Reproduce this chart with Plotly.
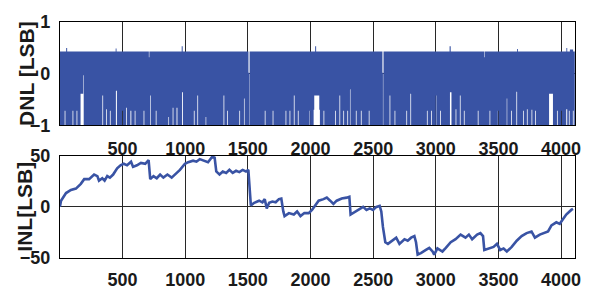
import numpy as np
import plotly.graph_objects as go

# ---------------- data ----------------
# DNL: the plot is a dense band; described by its envelope
n_codes = 4111                      # code axis extent visible
dnl_band_top = 0.43                 # typical upper edge of the DNL band
dnl_band_bottom = -1.0              # typical lower edge (missing codes)

# white slivers rising from the bottom: start code, width (codes), floor value
sliver_code  = [38, 101, 133, 165, 186, 339, 370, 399, 447, 497, 528, 563, 597, 668, 721,
                765, 866, 900, 931, 975, 1069, 1097, 1163, 1306, 1335, 1432, 1469, 1509,
                1635, 1698, 1801, 1833, 1867, 1899, 1993, 2030, 2025, 2104, 2196, 2231,
                2262, 2294, 2315, 2362, 2402, 2465, 2578, 2631, 2671, 2765, 2797, 2929,
                2963, 3000, 3034, 3113, 3158, 3192, 3224, 3335, 3429, 3495, 3566, 3601,
                3643, 3698, 3727, 3764, 3793, 3904, 3967, 4001, 4041, 4062, 4094]
sliver_width = [6, 6, 6, 21, 4, 6, 6, 6, 8, 6, 6, 7, 6, 6, 5,
                6, 5, 6, 7, 7, 6, 6, 5, 6, 6, 6, 5, 3,
                6, 6, 6, 6, 6, 6, 4, 40, 50, 6, 6, 6,
                6, 6, 4, 6, 6, 6, 3, 6, 6, 6, 6, 6,
                6, 4, 6, 12, 6, 6, 6, 6, 6, 6, 4, 6,
                6, 6, 6, 6, 6, 31, 6, 6, 8, 6, 6]
sliver_floor = [-0.72, -0.72, -0.72, -0.39, -0.03, -0.42, -0.69, -0.72, -0.33, -0.72, -0.66, -0.72, -0.72, -0.72, -0.42,
                -0.72, -0.84, -0.66, -0.66, -0.36, -0.72, -0.42, -0.84, -0.42, -0.72, -0.72, -0.48, 0.02,
                -0.72, -0.72, -0.72, -0.72, -0.42, -0.72, -0.72, -0.42, -0.70, -0.72, -0.72, -0.42,
                -0.72, -0.72, -0.30, -0.72, -0.72, -0.72, 0.02, -0.42, -0.72, -0.72, -0.39, -0.72,
                -0.72, -0.42, -0.72, -0.36, -0.69, -0.42, -0.72, -0.72, -0.72, -0.72, -0.48, -0.72,
                -0.35, -0.72, -0.69, -0.70, -0.72, -0.39, -0.72, -0.72, -0.69, -0.72, -0.72]

# dips in the top edge: start code, width, ceiling value
notch_code  = [710, 1505, 2574, 3387]
notch_width = [4, 9, 9, 4]
notch_ceil  = [0.32, 0.02, 0.02, 0.32]

# spikes above the top edge: start code, width, value
peak_code  = [50, 445, 972, 2037, 3110, 3649, 4042, 4070]
peak_width = [8, 7, 8, 8, 9, 7, 7, 26]
peak_value = [0.50, 0.49, 0.53, 0.53, 0.53, 0.48, 0.50, 0.47]

# INL curve
inl_code = [0, 9, 49, 88, 128, 167, 194, 233, 273, 299, 312, 338, 357, 378, 399, 425, 457,
            484, 510, 536, 568, 584, 615, 647, 681, 708, 721, 747, 773, 800, 826, 858, 892,
            926, 958, 998, 1024, 1063, 1090, 1116, 1156, 1182, 1216, 1235, 1248, 1274, 1300,
            1327, 1353, 1379, 1406, 1432, 1458, 1485, 1504, 1511, 1524, 1551, 1590, 1616,
            1635, 1651, 1670, 1696, 1722, 1748, 1767, 1783, 1793, 1828, 1867, 1893, 1920,
            1951, 1986, 2012, 2038, 2065, 2104, 2130, 2157, 2183, 2209, 2249, 2289, 2310,
            2320, 2341, 2381, 2420, 2447, 2473, 2499, 2526, 2552, 2565, 2578, 2597, 2618,
            2657, 2684, 2710, 2750, 2776, 2803, 2829, 2842, 2855, 2881, 2921, 2948, 2974,
            2987, 3013, 3053, 3080, 3119, 3158, 3198, 3237, 3264, 3290, 3330, 3356, 3377,
            3387, 3422, 3461, 3488, 3514, 3541, 3567, 3606, 3646, 3685, 3725, 3764, 3791,
            3830, 3870, 3896, 3923, 3962, 3989, 4015, 4041, 4081, 4095]
inl_value = [0.0, 6.0, 13.6, 16.7, 18.0, 22.7, 27.3, 27.3, 31.8, 30.3, 25.8, 28.2, 25.8, 30.3, 28.8, 31.8, 37.9,
             40.9, 42.4, 40.9, 44.5, 39.4, 40.9, 43.3, 42.4, 46.0, 27.3, 30.3, 28.2, 31.8, 28.8, 31.8, 28.8,
             32.4, 36.4, 42.4, 44.0, 45.5, 44.5, 47.0, 45.5, 44.0, 49.4, 48.5, 34.9, 31.8, 34.8,
             33.3, 36.4, 33.4, 35.5, 34.2, 36.4, 34.8, 36.4, 19.7, 1.5, 4.0, 6.1, 4.5,
             7.6, -1.5, 4.0, 5.2, 4.5, 7.6, 8.2, -4.5, -9.1, -6.1, -7.5, -4.5, -9.1,
             -6.1, -6.1, -3.0, 1.5, 6.1, 7.6, 9.1, 6.1, 3.0, 6.1, 8.2, 9.1, 10.0,
             -7.5, -6.1, -3.0, 0.0, -3.0, -1.5, -3.0, 0.0, 0.9, -4.5, -19.7, -34.8, -36.4,
             -33.3, -30.3, -36.4, -31.8, -33.3, -30.3, -28.8, -34.8, -46.9, -45.5, -42.4, -40.3, -43.9,
             -46.9, -40.9, -43.9, -40.3, -34.8, -31.8, -27.3, -30.3, -27.3, -31.8, -27.3, -25.8, -28.8,
             -42.4, -40.9, -39.4, -36.4, -42.4, -40.9, -43.9, -39.4, -33.3, -28.8, -25.8, -24.2, -30.3,
             -27.3, -25.8, -24.2, -18.2, -15.2, -16.7, -12.1, -7.6, -3.0, -2.0]

x_ticks = [500, 1000, 1500, 2000, 2500, 3000, 3500, 4000]
dnl_ticks = [-1, 0, 1]
inl_ticks = [-50, 0, 50]

# ---------------- build envelope arrays ----------------
codes = np.arange(n_codes)
upper = np.full(n_codes, dnl_band_top)
lower = np.full(n_codes, dnl_band_bottom)
for c, w, v in zip(peak_code, peak_width, peak_value):
    upper[c:c + w] = np.maximum(upper[c:c + w], v)
for c, w, v in zip(notch_code, notch_width, notch_ceil):
    upper[c:c + w] = np.minimum(upper[c:c + w], v)
for c, w, v in zip(sliver_code, sliver_width, sliver_floor):
    lower[c:c + w] = np.maximum(lower[c:c + w], v)
lower = np.minimum(lower, upper)

blue = "rgb(57,83,164)"
W, H = 599, 295
left, right = 60.5, 580.7
top1, bot1 = 13.0, 123.7
top2, bot2 = 156.7, 265.7

fig = go.Figure()
fig.add_trace(go.Scatter(x=codes, y=lower, mode="lines", line=dict(width=0, color=blue, shape="hv"),
                         hoverinfo="skip", showlegend=False, xaxis="x", yaxis="y"))
fig.add_trace(go.Scatter(x=codes, y=upper, mode="lines", line=dict(width=0, color=blue, shape="hv"),
                         fill="tonexty", fillcolor=blue, showlegend=False, xaxis="x", yaxis="y"))
fig.add_trace(go.Scatter(x=inl_code, y=inl_value, mode="lines", line=dict(width=2.6, color=blue),
                         showlegend=False, xaxis="x2", yaxis="y2"))

axis_common = dict(showgrid=True, gridcolor="rgb(40,40,40)", gridwidth=1,
                   showline=True, linecolor="black", linewidth=1, mirror=True,
                   zeroline=False, ticks="", fixedrange=True)
xdom = [left / W, right / W]
fig.update_layout(
    width=W, height=H,
    margin=dict(l=0, r=0, t=0, b=0),
    paper_bgcolor="white", plot_bgcolor="white",
    font=dict(family="Liberation Sans, Arial, sans-serif", size=18, color="#1a1a1a", weight="bold"),
    xaxis=dict(domain=xdom, range=[0, 4110], tickvals=x_ticks, anchor="y",
               ticklabelstandoff=7, **axis_common),
    yaxis=dict(domain=[(H - bot1) / H, (H - top1) / H], range=[-1, 1], tickvals=dnl_ticks,
               anchor="x", ticklabelstandoff=5, **axis_common),
    xaxis2=dict(domain=xdom, range=[0, 4110], tickvals=x_ticks, anchor="y2",
                ticklabelstandoff=6, **axis_common),
    yaxis2=dict(domain=[(H - bot2) / H, (H - top2) / H], range=[-50, 50], tickvals=inl_ticks,
                anchor="x2", ticklabelstandoff=5, **axis_common),
    annotations=[
        dict(text="DNL [LSB]", textangle=-90, xref="paper", yref="paper",
             x=26.5 / W, y=(H - (top1 + bot1) / 2) / H, showarrow=False,
             font=dict(size=21), xanchor="center", yanchor="middle"),
        dict(text="INL[LSB]", textangle=-90, xref="paper", yref="paper",
             x=25 / W, y=(H - (top2 + bot2) / 2) / H, showarrow=False,
             font=dict(size=21), xanchor="center", yanchor="middle"),
    ],
)
fig.write_html("out.html", config={"displayModeBar": False},
               post_script="document.body.style.margin='0';document.body.style.overflow='hidden';")
